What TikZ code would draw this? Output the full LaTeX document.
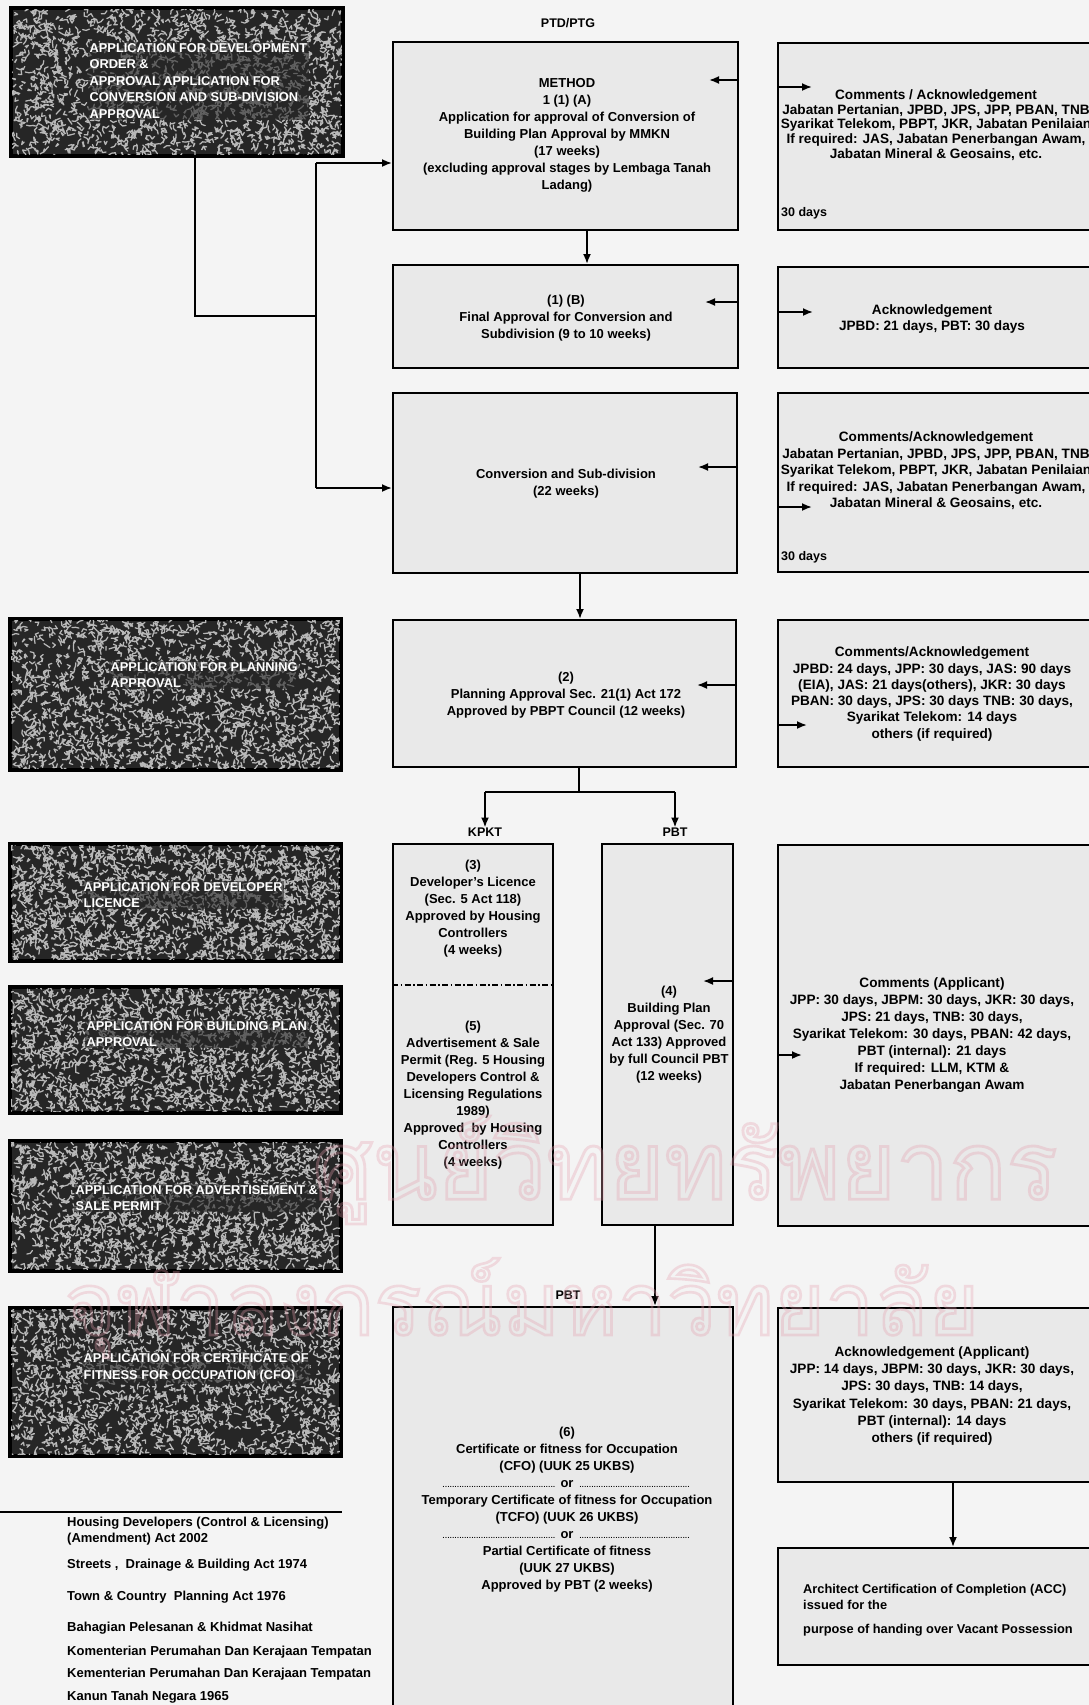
\documentclass[tikz,border=0pt]{standalone}
\usepackage{fontspec}
\setmainfont{Liberation Sans}
\newfontfamily\thaifont[Script=Thai]{Loma}
\usetikzlibrary{arrows.meta}

\definecolor{pagebg}{gray}{0.955}
\definecolor{boxbg}{gray}{0.915}
\definecolor{panelbg}{gray}{0.15}
\definecolor{panelworm}{gray}{0.72}
\definecolor{wmark}{rgb}{0.90,0.62,0.68}

\tikzset{
  box/.style={draw=black, line width=2pt, fill=boxbg, inner sep=0pt},
  panel/.style={draw=black, line width=2.6pt, inner sep=0pt},
  maintext/.style={align=center, inner sep=0pt, font=\bfseries\fontsize{13}{17}\selectfont},
  sidetext/.style={align=center, inner sep=0pt, font=\bfseries\fontsize{13.6}{14.7}\selectfont},
  paneltext/.style={align=left, anchor=west, inner sep=1.5pt, text=white, fill=panelbg, fill opacity=0.6, text opacity=1, font=\bfseries\fontsize{12.8}{16.5}\selectfont},
  tag/.style={inner sep=0pt, font=\bfseries\fontsize{12.5}{14}\selectfont},
  link/.style={line width=1.8pt},
  flow/.style={line width=1.8pt, -{Latex[length=10pt,width=8pt]}},
  legend/.style={align=left, anchor=west, inner sep=0pt, font=\bfseries\fontsize{13}{16}\selectfont},
}

% dotted leader used around the word "or"
\newcommand\dotsrule{\leaders\hbox to 2.4pt{\hss\fontsize{7}{7}\selectfont.\hss}\hfill}
\newcommand\orline{\makebox[249pt]{\dotsrule\ or\ \dotsrule}}
% hollow lettering for the library stamp
\newcommand\hollow[1]{\special{pdf:literal direct 1 Tr 0.3 w}#1\special{pdf:literal direct 0 Tr}}

% dark textured application panel: name, x1, y1, x2, y2, text x, text y, text
\newcommand\panelbox[8]{%
  \node[panel, fill=panelbg, minimum width={#4-#2}, minimum height={#5-#3}] (#1) at ({(#2+#4)/2},{(#3+#5)/2}) {};
  \begin{scope}
    \clip (#2,#3) rectangle (#4,#5);
    \draw[panelworm, line width=1.25pt, line cap=round, line join=round]
      \foreach \k in {1,...,1700}{ ({#2+rnd*(#4-#2)},{#3+rnd*(#5-#3)}) -- ++({rnd*360}:3.5) -- ++({rnd*360}:3.5) };
  \end{scope}
  \draw[panel] (#1.north west) rectangle (#1.south east);
  \node[paneltext] (#1text) at (#6,#7) {#8};
}

\begin{document}
\begin{tikzpicture}[x=1pt,y=-1pt]
\pgfmathsetseed{4711}
\useasboundingbox (0,0) rectangle (1089,1705);
\clip (0,0) rectangle (1089,1705);
\fill[pagebg] (0,0) rectangle (1089,1705);

% ---------- application panels (left column)
\panelbox{D1}{12}{9}{342}{155}{88}{81}{APPLICATION FOR DEVELOPMENT\\ORDER \&\\APPROVAL APPLICATION FOR\\CONVERSION AND SUB-DIVISION\\APPROVAL}
\panelbox{D2}{11}{620}{340}{769}{109}{675}{APPLICATION FOR PLANNING\\APPROVAL}
\panelbox{D3}{11}{845}{340}{960}{82}{895}{APPLICATION FOR DEVELOPER\\LICENCE}
\panelbox{D4}{11}{988}{340}{1112}{85}{1034}{APPLICATION FOR BUILDING PLAN\\APPROVAL}
\panelbox{D5}{11}{1142}{340}{1270}{74}{1198}{APPLICATION FOR ADVERTISEMENT \&\\SALE PERMIT}
\panelbox{D6}{11}{1309}{340}{1455}{82}{1368}{APPLICATION FOR CERTIFICATE OF\\FITNESS FOR OCCUPATION (CFO)}

% ---------- main column
\node[tag] (hPTD) at (568,23) {PTD/PTG};
\node[box, minimum width=345, minimum height=188] (A) at (565.5,136) {};
\node[maintext] (tA) at (567,135) {METHOD\\1 (1) (A)\\Application for approval of Conversion of\\Building Plan Approval by MMKN\\(17 weeks)\\(excluding approval stages by Lembaga Tanah\\Ladang)};
\node[box, minimum width=345, minimum height=103] (B) at (565.5,316.5) {};
\node[maintext] (tB) at (566,318) {(1) (B)\\Final Approval for Conversion and\\Subdivision (9 to 10 weeks)};
\node[box, minimum width=344, minimum height=180] (C) at (565,483) {};
\node[maintext] (tC) at (566,484) {Conversion and Sub-division\\(22 weeks)};
\node[box, minimum width=343, minimum height=147] (P2) at (564.5,693.5) {};
\node[maintext] (tP2) at (566,695) {(2)\\Planning Approval Sec. 21(1) Act 172\\Approved by PBPT Council (12 weeks)};

\node[tag] (hK) at (485,832) {KPKT};
\node[tag] (hP) at (675,832) {PBT};
\node[box, minimum width=160, minimum height=381] (K) at (473,1034.5) {};
\draw[line width=1.6pt, dash pattern=on 6pt off 2.5pt on 1.5pt off 2.5pt] (K.west |- 0,985) -- (K.east |- 0,985);
\node[maintext] (tK3) at (473,909) {(3)\\Developer's Licence\\(Sec. 5 Act 118)\\Approved by Housing\\Controllers\\(4 weeks)};
\node[maintext] (tK5) at (473,1095) {(5)\\Advertisement \& Sale\\Permit (Reg. 5 Housing\\Developers Control \&\\Licensing Regulations\\1989)\\Approved\ \ by Housing\\Controllers\\(4 weeks)};
\node[box, minimum width=131, minimum height=381] (P4) at (667.5,1034.5) {};
\node[maintext] (tP4) at (669,1035) {(4)\\Building Plan\\Approval (Sec. 70\\Act 133) Approved\\by full Council PBT\\(12 weeks)};

\node[tag] (hP6) at (568,1295) {PBT};
\node[box, minimum width=340, minimum height=413] (P6) at (563,1513.5) {};
\node[maintext] (tP6) at (567,1510) {(6)\\Certificate or fitness for Occupation\\(CFO) (UUK 25 UKBS)\\\orline\\Temporary Certificate of fitness for Occupation\\(TCFO) (UUK 26 UKBS)\\\orline\\Partial Certificate of fitness\\(UUK 27 UKBS)\\Approved by PBT (2 weeks)};

% ---------- agency column (right)
\node[box, minimum width=317, minimum height=187] (R1) at (936.5,136.5) {};
\node[sidetext] (tR1) at (936,125) {Comments / Acknowledgement\\Jabatan Pertanian, JPBD, JPS, JPP, PBAN, TNB\\Syarikat Telekom, PBPT, JKR, Jabatan Penilaian\\If required: JAS, Jabatan Penerbangan Awam,\\Jabatan Mineral \& Geosains, etc.};
\node[tag, anchor=west] (dR1) at (781,213) {30 days};
\node[box, minimum width=317, minimum height=101] (R2) at (936.5,317.5) {};
\node[sidetext, font=\bfseries\fontsize{13.6}{16.3}\selectfont] (tR2) at (932,319) {Acknowledgement\\JPBD: 21 days, PBT: 30 days};
\node[box, minimum width=317, minimum height=179] (R3) at (936.5,482.5) {};
\node[sidetext, font=\bfseries\fontsize{13.6}{16.5}\selectfont] (tR3) at (936,471) {Comments/Acknowledgement\\Jabatan Pertanian, JPBD, JPS, JPP, PBAN, TNB\\Syarikat Telekom, PBPT, JKR, Jabatan Penilaian\\If required: JAS, Jabatan Penerbangan Awam,\\Jabatan Mineral \& Geosains, etc.};
\node[tag, anchor=west] (dR3) at (781,557) {30 days};
\node[box, minimum width=317, minimum height=147] (R4) at (936.5,693.5) {};
\node[sidetext, font=\bfseries\fontsize{13.6}{16.3}\selectfont] (tR4) at (932,694) {Comments/Acknowledgement\\JPBD: 24 days, JPP: 30 days, JAS: 90 days\\(EIA), JAS: 21 days(others), JKR: 30 days\\PBAN: 30 days, JPS: 30 days TNB: 30 days,\\Syarikat Telekom: 14 days\\others (if required)};
\node[box, minimum width=317, minimum height=381] (R5) at (936.5,1035.5) {};
\node[sidetext, font=\bfseries\fontsize{13.6}{17.1}\selectfont] (tR5) at (932,1035) {Comments (Applicant)\\JPP: 30 days, JBPM: 30 days, JKR: 30 days,\\JPS: 21 days, TNB: 30 days,\\Syarikat Telekom: 30 days, PBAN: 42 days,\\PBT (internal): 21 days\\If required: LLM, KTM \&\\Jabatan Penerbangan Awam};
\node[box, minimum width=317, minimum height=174] (R6) at (936.5,1395) {};
\node[sidetext, font=\bfseries\fontsize{13.6}{17.2}\selectfont] (tR6) at (932,1396) {Acknowledgement (Applicant)\\JPP: 14 days, JBPM: 30 days, JKR: 30 days,\\JPS: 30 days, TNB: 14 days,\\Syarikat Telekom: 30 days, PBAN: 21 days,\\PBT (internal): 14 days\\others (if required)};
\node[box, minimum width=317, minimum height=117] (R7) at (936.5,1606.5) {};
\node[legend, font=\bfseries\fontsize{12.8}{16.5}\selectfont] (tR7) at (803,1610) {Architect Certification of Completion (ACC)\\issued for the\\[7pt]purpose of handing over Vacant Possession};

% ---------- connectors from the first application panel
\coordinate (j1) at (195,316);
\coordinate (j2) at (316,316);
\coordinate (j3) at (316,163);
\coordinate (j4) at (316,488);
\draw[link] (j1 |- D1.south) -- (j1) -- (j2);
\draw[link] (j3) -- (j4);
\draw[flow] (j3) -- (j3 -| A.west);
\draw[flow] (j4) -- (j4 -| C.west);

% ---------- main flow
\coordinate (xA) at (587,0);
\draw[flow] (xA |- A.south) -- (xA |- B.north);
\coordinate (xC) at (580,0);
\draw[flow] (xC |- C.south) -- (xC |- P2.north);
\coordinate (br) at (579,792);
\coordinate (brL) at (485,792);
\coordinate (brR) at (675,792);
\draw[link] (br |- P2.south) -- (br);
\draw[link] (brL) -- (brR);
\draw[flow] (brL) -- (hK.north);
\draw[flow] (brR) -- (hP.north);
\coordinate (x4) at (655,0);
\draw[flow] (x4 |- P4.south) -- (x4 |- P6.north);
\coordinate (x6) at (953,0);
\draw[flow] (x6 |- R6.south) -- (x6 |- R7.north);

% ---------- incoming arrow stubs at the box borders
\coordinate (inA) at (709,80);   \draw[flow] (inA -| A.east) -- (inA);
\coordinate (inR1) at (812,87);  \draw[flow] (inR1 -| R1.west) -- (inR1);
\coordinate (inB) at (705,302);  \draw[flow] (inB -| B.east) -- (inB);
\coordinate (inR2) at (813,312); \draw[flow] (inR2 -| R2.west) -- (inR2);
\coordinate (inC) at (698,467);  \draw[flow] (inC -| C.east) -- (inC);
\coordinate (inR3) at (812,507); \draw[flow] (inR3 -| R3.west) -- (inR3);
\coordinate (inP2) at (697,685); \draw[flow] (inP2 -| P2.east) -- (inP2);
\coordinate (inR4) at (807,725); \draw[flow] (inR4 -| R4.west) -- (inR4);
\coordinate (inP4) at (703,981); \draw[flow] (inP4 -| P4.east) -- (inP4);
\coordinate (inR5) at (802,1055);\draw[flow] (inR5 -| R5.west) -- (inR5);

% ---------- legend of acts and agencies
\coordinate (lgL) at (0,1512);
\coordinate (lgR) at (342,1512);
\draw[line width=1.4pt] (lgL) -- (lgR);
\node[legend] (L1) at (67,1531) {Housing Developers (Control \& Licensing)\\(Amendment) Act 2002};
\node[legend] (L2) at (67,1565) {Streets\ , \ Drainage \& Building Act 1974};
\node[legend] (L3) at (67,1597) {Town \& Country\ \ Planning Act 1976};
\node[legend] (L4) at (67,1628) {Bahagian Pelesanan \& Khidmat Nasihat};
\node[legend] (L5) at (67,1652) {Komenterian Perumahan Dan Kerajaan Tempatan};
\node[legend] (L6) at (67,1674) {Kementerian Perumahan Dan Kerajaan Tempatan};
\node[legend] (L7) at (67,1697) {Kanun Tanah Negara 1965};

% ---------- library stamp
\node[text=wmark, opacity=0.32, inner sep=0pt] (wm1) at (685,1170) {\resizebox{745pt}{!}{\thaifont\hollow{ศูนย์วิทยทรัพยากร}}};
\node[text=wmark, opacity=0.32, inner sep=0pt] (wm2) at (522,1308) {\resizebox{914pt}{!}{\thaifont\hollow{จุฬาลงกรณ์มหาวิทยาลัย}}};
\end{tikzpicture}
\end{document}
